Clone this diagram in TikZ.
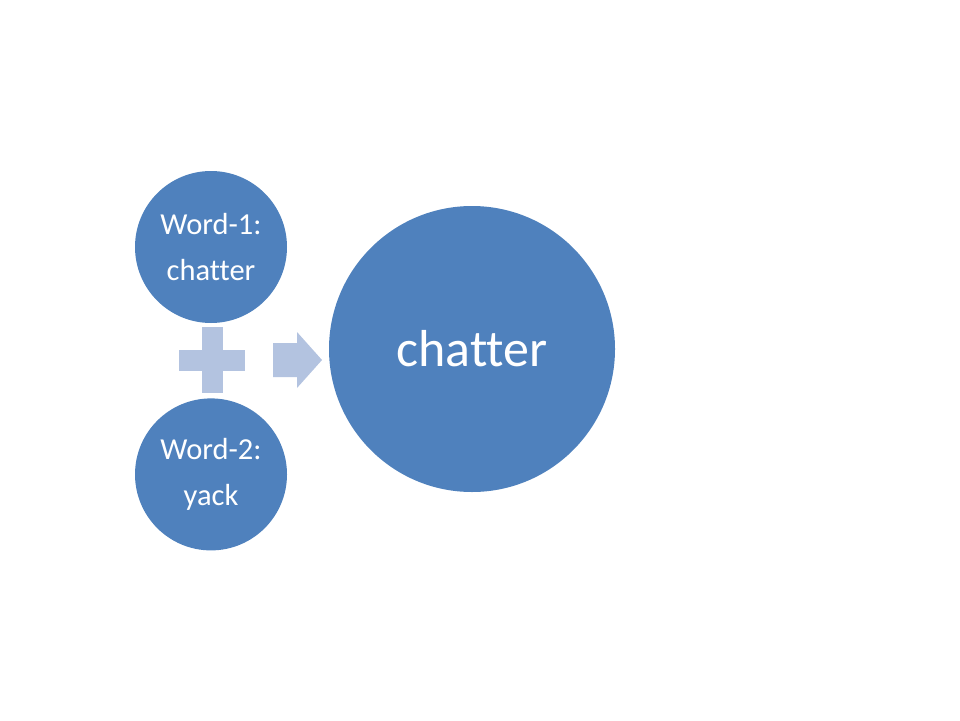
\documentclass[tikz,border=0pt]{standalone}
\usepackage{fontspec}
\setmainfont{Carlito}[Ligatures={NoCommon}]
\usepackage{tikz}
\usetikzlibrary{positioning}
\definecolor{circblue}{HTML}{4F81BD}
\definecolor{signblue}{HTML}{B3C3E0}

\begin{document}
\begin{tikzpicture}[x=1pt,y=-1pt,
  word/.style={circle,fill=circblue,text=white,minimum size=152pt,inner sep=0pt,
    align=center,font=\fontsize{30.5}{46}\selectfont},
  result/.style={circle,fill=circblue,text=white,minimum size=286pt,inner sep=0pt,
    font=\fontsize{52}{60}\selectfont}]
  \useasboundingbox (0,0) rectangle (960,720);
  \node[word]   (w1)                 at (211,247) {Word-1:\\chatter};
  \node[word]   (w2) [below=75pt of w1]           {Word-2:\\yack};
  \node[result] (res)                at (472,349) {chatter};

  % plus sign between the two words
  \fill[signblue] (201.5,327) rectangle (222.5,393);
  \fill[signblue] (179,349.5) rectangle (245,370.5);

  % arrow towards the result
  \fill[signblue] (273,343) -- (297,343) -- (297,332) -- (322,360)
    -- (297,388) -- (297,377) -- (273,377) -- cycle;
\end{tikzpicture}
\end{document}
